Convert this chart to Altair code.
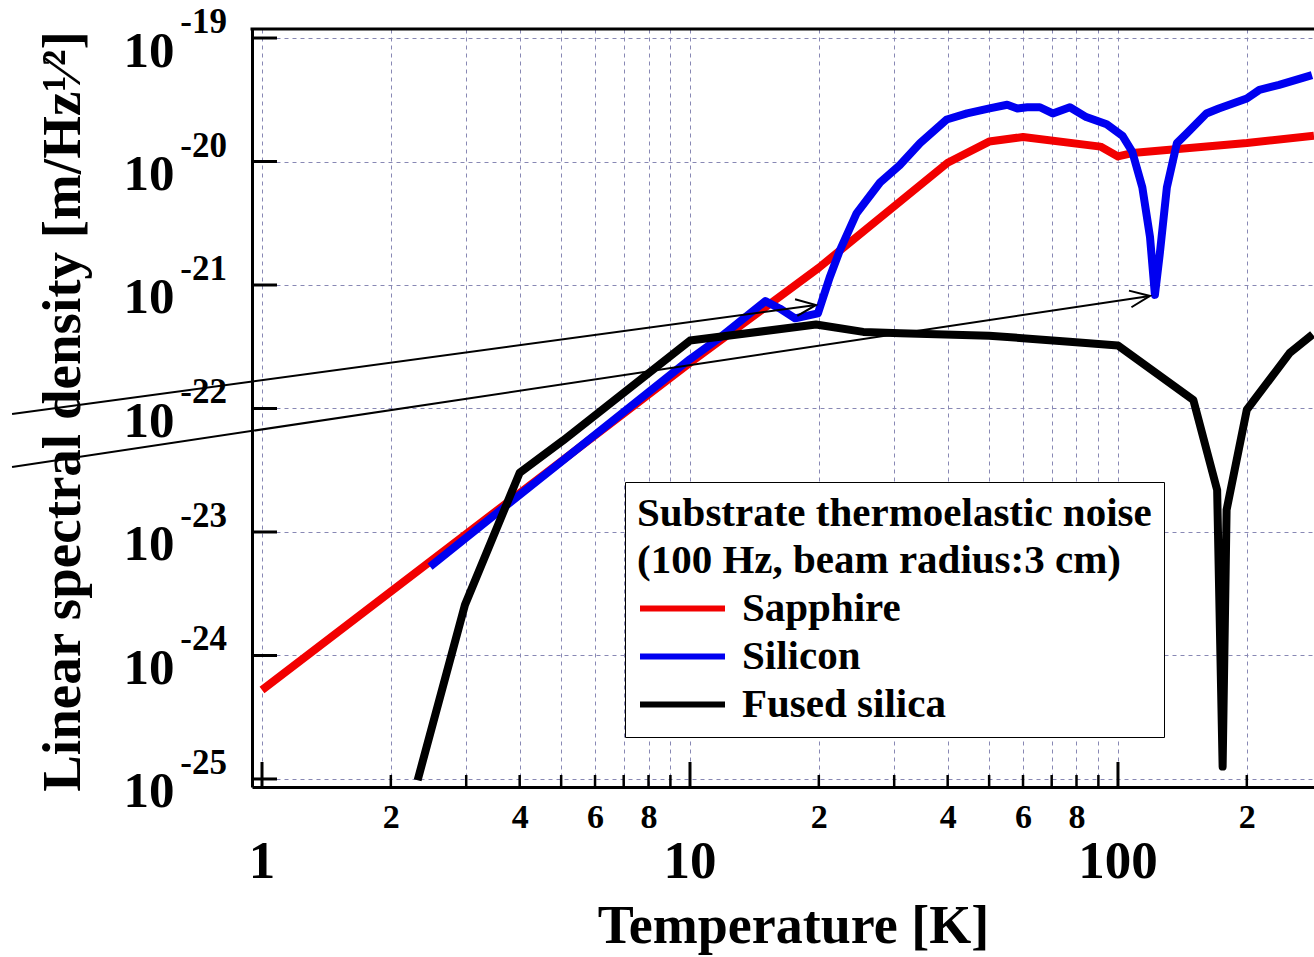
import altair as alt
import pandas as pd

# ---------------- data ----------------
sapphire_T = [1, 10, 20, 40, 50, 60, 91, 100, 108, 200, 287]
sapphire_v = [5.25e-25, 2.34e-22, 1.38e-21, 9.77e-21, 1.45e-20, 1.58e-20,
              1.32e-20, 1.10e-20, 1.17e-20, 1.41e-20, 1.62e-20]

silicon_T = [2.47, 4.0, 10, 11.8, 15, 16.2, 17.6, 19.9, 21.2, 22.4, 24.5, 27.8,
             30.9, 34.5, 39.8, 44.4, 50.1, 55.1, 58.2, 61.4, 65.7, 70.4, 77.2,
             84.3, 94.1, 102.4, 108.0, 114.0, 118.8, 122.0, 125.3, 130.1, 137.3,
             145.0, 160.9, 172.0, 200, 214, 238, 284]
silicon_v = [5.25e-24, 2.00e-23, 2.51e-22, 3.80e-22, 7.41e-22, 6.46e-22, 5.37e-22,
             5.89e-22, 1.15e-21, 1.91e-21, 3.80e-21, 6.76e-21, 9.33e-21, 1.41e-20,
             2.19e-20, 2.45e-20, 2.69e-20, 2.88e-20, 2.69e-20, 2.75e-20, 2.75e-20,
             2.45e-20, 2.75e-20, 2.29e-20, 2.00e-20, 1.62e-20, 1.20e-20, 6.17e-21,
             2.45e-21, 8.32e-22, 1.82e-21, 6.17e-21, 1.41e-20, 1.70e-20, 2.45e-20,
             2.69e-20, 3.24e-20, 3.80e-20, 4.17e-20, 5.01e-20]

fused_T = [2.31, 2.98, 4.0, 5.05, 10, 19.7, 25.4, 31, 50, 77, 100, 150, 170.5,
           175.6, 179.4, 200, 252, 285]
fused_v = [9.77e-26, 2.57e-24, 3.02e-23, 5.50e-23, 3.55e-22, 4.79e-22, 4.17e-22,
           4.07e-22, 3.89e-22, 3.47e-22, 3.24e-22, 1.17e-22, 2.19e-23, 1.26e-25,
           1.51e-23, 9.77e-23, 2.82e-22, 3.98e-22]

series_names = ["Sapphire", "Silicon", "Fused silica"]
series_colors = ["#f20000", "#0000f0", "#000000"]

# annotation arrows (start / end in data units)
arrow_T0 = [0.2606, 0.2606]
arrow_v0 = [9.02e-23, 3.36e-23]
arrow_T1 = [19.70, 118.8]
arrow_v1 = [6.89e-22, 8.15e-22]

# axis ticks / labels
x_tick_values = [1, 2, 3, 4, 5, 6, 7, 8, 9, 10, 20, 30, 40, 50, 60, 70, 80, 90, 100, 200]
x_minor_labels = ["", "2", "", "4", "", "6", "", "8", "", "", "2", "", "4", "", "6", "",
                  "8", "", "", "2"]
x_major = [1, 10, 100]
x_major_labels = ["1", "10", "100"]
x_minor = [2, 3, 4, 5, 6, 7, 8, 9, 20, 30, 40, 50, 60, 70, 80, 90, 200]
y_exponents = [-19, -20, -21, -22, -23, -24, -25]
y_decades = [1e-19, 1e-20, 1e-21, 1e-22, 1e-23, 1e-24, 1e-25]

# ---------------- tables ----------------
rows = []
for name, Ts, vs in [("Sapphire", sapphire_T, sapphire_v),
                     ("Silicon", silicon_T, silicon_v),
                     ("Fused silica", fused_T, fused_v)]:
    for t, v in zip(Ts, vs):
        rows.append({"series": name, "T": t, "v": v})
df = pd.DataFrame(rows)

arrows = pd.DataFrame({"T": arrow_T1, "v": arrow_v1, "T0": arrow_T0, "v0": arrow_v0})
ydf = pd.DataFrame({"v": y_decades, "exp": [str(e) for e in y_exponents]})
xmaj = pd.DataFrame({"T": x_major, "lab": x_major_labels})
xmin = pd.DataFrame({"T": x_minor})

W, H = 1062, 758
FONT = "Liberation Serif"
GRID = "#8888b4"

xs = alt.Scale(type="log", domain=[0.9476, 287.1], nice=False)
ys = alt.Scale(type="log", domain=[8.61e-26, 1.183e-19], nice=False)

label_expr = ("[" + ",".join("'%s'" % s for s in x_minor_labels) + "][indexof(["
              + ",".join(str(v) for v in x_tick_values) + "], datum.value)]")

x_axis = alt.Axis(
    values=x_tick_values, labelExpr=label_expr, ticks=False, tickSize=0,
    grid=True, gridDash=[4, 4], gridColor=GRID, gridWidth=1,
    domain=True, domainColor="black", domainWidth=3,
    labelFont=FONT, labelFontWeight="bold", labelColor="black",
    labelFontSize=34, labelPadding=40,
    labelBaseline="alphabetic", labelAlign="center",
    labelOverlap=False, labelFlush=False, labelBound=False,
    title="Temperature [K]", titleFont=FONT, titleFontSize=54, titleFontWeight="bold",
    titleColor="black", titleX=541, titleY=155, titleBaseline="alphabetic",
    titleAlign="center",
)
y_axis = alt.Axis(
    values=y_decades, labelExpr="'10'", ticks=False, tickSize=0,
    grid=True, gridDash=[4, 4], gridColor=GRID, gridWidth=1,
    domain=True, domainColor="black", domainWidth=3,
    labelFont=FONT, labelFontWeight="bold", labelColor="black", labelFontSize=51,
    labelPadding=78, labelOffset=28, labelBaseline="alphabetic", labelAlign="right",
    labelOverlap=False, labelFlush=False, labelBound=False,
    title="Linear spectral density [m/Hz\u00b9\u2044\u00b2]", titleFont=FONT,
    titleFontSize=55, titleFontWeight="bold", titleColor="black",
    titleAngle=270, titleX=-173, titleY=382, titleBaseline="alphabetic",
    titleAlign="center",
)

legend = alt.Legend(
    title=["Substrate thermoelastic noise", "(100 Hz, beam radius:3 cm)"],
    orient="none", legendX=373, legendY=453,
    titleFont=FONT, titleFontSize=41, titleFontWeight="bold", titleColor="black",
    titleLineHeight=47, titleLimit=0, titlePadding=6, titleAnchor="start", titleAlign="left",
    labelFont=FONT, labelFontSize=41, labelFontWeight="bold", labelColor="black",
    labelLimit=0, labelOffset=14,
    symbolType="stroke", symbolSize=7225, symbolStrokeWidth=6,
    clipHeight=41, rowPadding=6, padding=12,
    strokeColor="black", fillColor="white",
)

X = alt.X("T:Q", scale=xs, axis=x_axis)
Y = alt.Y("v:Q", scale=ys, axis=y_axis)

lines = alt.Chart(df).mark_line(strokeWidth=8, clip=True, strokeJoin="round").encode(
    x=X, y=Y,
    color=alt.Color("series:N", scale=alt.Scale(domain=series_names, range=series_colors),
                    legend=legend),
)

ymaj_ticks = alt.Chart(ydf).mark_rule(color="black", strokeWidth=3).encode(
    y=Y, x=alt.value(0), x2=alt.value(25))
xmaj_ticks = alt.Chart(xmaj).mark_rule(color="black", strokeWidth=3).encode(
    x=X, y=alt.value(H), y2=alt.value(H - 25))
xmin_ticks = alt.Chart(xmin).mark_rule(color="black", strokeWidth=2.5).encode(
    x=X, y=alt.value(H), y2=alt.value(H - 12))

xmaj_text = alt.Chart(xmaj).mark_text(align="center", baseline="alphabetic", font=FONT,
                                      fontWeight="bold", fontSize=53, color="black").encode(
    x=X, y=alt.value(H + 91), text="lab:N")

exps = alt.Chart(ydf).mark_text(align="right", baseline="alphabetic", dy=-5, font=FONT,
                                fontWeight="bold", fontSize=35, color="black").encode(
    y=Y, x=alt.value(-25), text="exp:N")

top_border = alt.Chart().mark_rule(color="black", strokeWidth=3).encode(
    x=alt.value(-1.5), x2=alt.value(W), y=alt.value(0))

arrow_lines = alt.Chart(arrows).mark_rule(color="black", strokeWidth=2).encode(
    x=X, y=Y, x2="T0:Q", y2="v0:Q")

head_shape = "M-1,-0.42L0,0L-1,0.42"
head1 = alt.Chart(arrows.iloc[[0]]).mark_point(
    shape=head_shape, filled=False, size=1600, strokeWidth=2, color="black",
    opacity=1, angle=352.3).encode(x=X, y=Y)
head2 = alt.Chart(arrows.iloc[[1]]).mark_point(
    shape=head_shape, filled=False, size=1600, strokeWidth=2, color="black",
    opacity=1, angle=351.5).encode(x=X, y=Y)

chart = alt.layer(
    lines, ymaj_ticks, xmaj_ticks, xmin_ticks, xmaj_text, exps, top_border,
    arrow_lines, head1, head2,
).properties(
    width=W, height=H,
    autosize=alt.AutoSizeParams(type="none"),
    padding={"left": 252, "top": 29, "right": 0, "bottom": 170},
    background="white",
).configure_view(stroke=None).configure(font=FONT)

chart.save("out.html", embed_options={"renderer": "svg", "actions": False})
